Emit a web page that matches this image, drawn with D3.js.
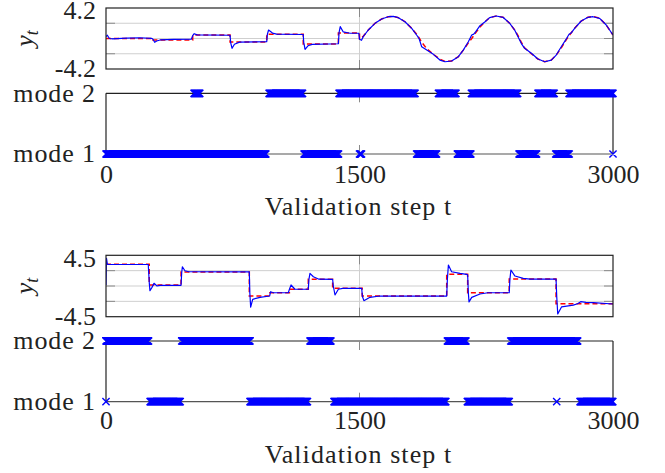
<!DOCTYPE html>
<html><head><meta charset="utf-8">
<script src="https://cdn.jsdelivr.net/npm/d3@7"></script>
<style>
html,body{margin:0;padding:0;background:#fff;}
svg{display:block;}
text{font-family:"Liberation Serif","DejaVu Serif",serif;fill:#222;}
</style></head>
<body><svg id="c" width="665" height="473"></svg>
<script>
// ---------- data ----------
const xTicks = [0, 1500, 3000];
const xTickLabels = ["0", "1500", "3000"];
const modeTicks = [1, 2];
const modeLabels = ["mode 1", "mode 2"];
const xTitle = "Validation step t";

const topYTicks = [-4.2, 4.2];
const topYTickLabels = ["-4.2", "4.2"];
const topYGrid = [-2.1, 0, 2.1];
const botYTicks = [-4.5, 4.5];
const botYTickLabels = ["-4.5", "4.5"];
const botYGrid = [-2.25, 0, 2.25];

// reference (red dashed) — step segments [t, value], then smooth points
const topRefSteps = [[0,0.0],[278,-0.22],[513,0.48],[734,-0.48],[951,0.58],[1167,-0.76],[1375,0.75]];
const topRefSmooth = [[1500,0.0],[1522,0.3],[1552,1.17],[1592,2.09],[1631,2.69],[1670,3.0],[1700,3.05],[1730,2.87],[1769,2.31],[1809,1.4],[1838,0.6],[1868,-0.5],[1898,-1.4],[1937,-2.18],[1976,-2.85],[2006,-3.15],[2045,-3.1],[2085,-2.5],[2114,-1.6],[2144,-0.6],[2164,0.0],[2188,0.8],[2213,1.6],[2243,2.31],[2270,2.87],[2309,3.1],[2349,2.92],[2389,2.09],[2418,1.17],[2438,0.4],[2457,-0.5],[2477,-1.3],[2517,-2.1],[2556,-2.82],[2596,-3.2],[2635,-2.97],[2664,-2.28],[2694,-1.3],[2720,-0.3],[2740,0.4],[2773,1.4],[2812,2.41],[2852,2.92],[2882,3.05],[2921,2.78],[2960,1.86],[3000,0.48]];
// model output (blue)
const topOut = [[0,0.25],[8,0.45],[20,0.0],[40,-0.05],[120,0.05],[200,0.1],[270,0.02],[278,-0.1],[288,-0.52],[300,-0.35],[320,-0.2],[400,-0.12],[505,-0.1],[513,0.4],[522,0.66],[540,0.5],[734,0.45],[738,-0.6],[746,-1.35],[760,-0.8],[790,-0.5],[951,-0.45],[955,0.6],[962,1.17],[985,0.75],[1010,0.6],[1167,0.55],[1170,-0.5],[1178,-1.49],[1195,-1.0],[1220,-0.8],[1375,-0.72],[1379,0.8],[1386,1.63],[1404,0.9],[1444,0.72],[1496,0.72],[1500,-0.1],[1512,-0.25],[1522,0.25],[1552,1.17],[1592,2.09],[1631,2.69],[1670,3.0],[1700,3.05],[1730,2.87],[1769,2.31],[1809,1.4],[1838,0.48],[1852,0.02],[1868,-1.13],[1898,-1.6],[1937,-2.18],[1976,-2.97],[2006,-3.2],[2045,-3.1],[2085,-2.5],[2114,-1.6],[2144,-0.44],[2164,0.48],[2176,0.6],[2188,0.94],[2213,1.76],[2243,2.31],[2270,2.87],[2309,3.1],[2349,2.92],[2389,2.09],[2418,1.17],[2438,0.25],[2457,-0.67],[2477,-1.35],[2517,-2.04],[2556,-2.82],[2596,-3.2],[2635,-2.97],[2664,-2.28],[2694,-1.13],[2720,-0.2],[2740,0.58],[2752,0.75],[2773,1.4],[2812,2.41],[2852,2.92],[2882,3.0],[2921,2.78],[2960,1.86],[3000,0.48]];

const botRefSteps = [[0,3.17],[256,0.15],[444,2.05],[848,-1.47],[970,-0.99],[1085,-0.48],[1197,0.98],[1341,-0.34],[1516,-1.47],[2016,1.71],[2140,-0.99],[2386,1.02],[2663,-2.6],[3000,-2.6]];
const botOut = [[0,0.15],[3,4.05],[8,3.2],[15,3.17],[250,3.15],[256,0.5],[260,-0.69],[272,-0.2],[284,0.4],[302,0.0],[320,0.1],[444,0.1],[448,2.0],[452,2.82],[467,2.24],[490,2.09],[848,2.07],[851,-1.0],[856,-3.1],[868,-1.95],[911,-1.66],[968,-1.47],[974,-0.84],[990,-0.99],[1079,-0.99],[1085,-0.5],[1095,0.15],[1118,-0.48],[1197,-0.46],[1201,1.0],[1207,1.86],[1227,1.36],[1260,1.0],[1341,0.98],[1345,0.0],[1355,-1.32],[1375,-0.48],[1400,-0.34],[1513,-0.34],[1517,-1.5],[1526,-2.15],[1562,-1.66],[1620,-1.47],[2016,-1.47],[2020,1.0],[2026,3.08],[2045,2.09],[2095,1.86],[2134,1.71],[2140,1.6],[2144,-1.0],[2148,-2.33],[2164,-1.66],[2213,-1.17],[2260,-0.99],[2386,-0.99],[2390,1.0],[2396,2.34],[2420,1.46],[2469,1.12],[2510,1.02],[2663,1.02],[2667,-1.5],[2673,-4.1],[2696,-3.05],[2765,-2.8],[2790,-2.6],[2809,-2.3],[2840,-2.4],[2884,-2.45],[3000,-2.64]];

// active-mode runs [start, end]
const topMode1 = [[0,946],[1172,1376],[1500,1512],[1838,1956],[2079,2159],[2444,2548],[2661,2741],[3000,3000]];
const topMode2 = [[521,556],[965,1163],[1379,1830],[1967,2071],[2162,2436],[2556,2652],[2740,3000]];
const botMode1 = [[0,0],[261,439],[852,1193],[1349,2012],[2138,2386],[2667,2667],[2805,3000]];
const botMode2 = [[0,252],[448,852],[1207,1331],[2020,2130],[2395,2791]];

// ---------- drawing ----------
const svg = d3.select("#c");
const X0 = 106, X1 = 613;
const x = d3.scaleLinear().domain([0, 3000]).range([X0, X1]);
const TICK = 9;
const FS = 26;
const FONT = "'Liberation Serif','DejaVu Serif',serif";

function signalPanel(cfg) {
  const y = d3.scaleLinear().domain(cfg.domain).range([cfg.bottom, cfg.top]);
  const g = svg.append("g");
  const id = "clip" + cfg.name;
  svg.append("clipPath").attr("id", id).append("rect")
    .attr("x", X0).attr("y", cfg.top).attr("width", X1 - X0).attr("height", cfg.bottom - cfg.top);
  g.selectAll(".hg").data(cfg.grid).join("line")
    .attr("x1", X0).attr("x2", X1).attr("y1", d => y(d)).attr("y2", d => y(d))
    .attr("stroke", "#cfcfcf").attr("stroke-width", 1);
  g.selectAll(".vg").data(xTicks.slice(1, -1)).join("line")
    .attr("x1", d => x(d)).attr("x2", d => x(d)).attr("y1", cfg.top).attr("y2", cfg.bottom)
    .attr("stroke", "#cfcfcf").attr("stroke-width", 1);
  cfg.grid.forEach(v => {
    g.append("line").attr("x1", X0).attr("x2", X0 + TICK).attr("y1", y(v)).attr("y2", y(v)).attr("stroke", "#8a8a8a");
    g.append("line").attr("x1", X1 - TICK).attr("x2", X1).attr("y1", y(v)).attr("y2", y(v)).attr("stroke", "#8a8a8a");
  });
  xTicks.slice(1, -1).forEach(v => {
    g.append("line").attr("x1", x(v)).attr("x2", x(v)).attr("y1", cfg.top).attr("y2", cfg.top + TICK).attr("stroke", "#8a8a8a");
    g.append("line").attr("x1", x(v)).attr("x2", x(v)).attr("y1", cfg.bottom - TICK).attr("y2", cfg.bottom).attr("stroke", "#8a8a8a");
  });
  const lines = g.append("g").attr("clip-path", `url(#${id})`);
  const stepLine = d3.line().x(d => x(d[0])).y(d => y(d[1])).curve(d3.curveStepAfter);
  const lin = d3.line().x(d => x(d[0])).y(d => y(d[1]));
  let refD = stepLine(cfg.refSteps);
  if (cfg.refSmooth) {
    const last = cfg.refSteps[cfg.refSteps.length - 1];
    refD = stepLine(cfg.refSteps.concat([[cfg.refSmooth[0][0], last[1]]])) + "L" + lin(cfg.refSmooth).slice(1);
  }
  lines.append("path").attr("d", refD).attr("fill", "none").attr("stroke", "#ff0000")
    .attr("stroke-width", 1.5).attr("stroke-dasharray", "5,3");
  lines.append("path").attr("d", lin(cfg.out)).attr("fill", "none").attr("stroke", "#0000ff")
    .attr("stroke-width", 1.2).attr("stroke-linejoin", "round");
  g.append("rect").attr("x", X0).attr("y", cfg.top).attr("width", X1 - X0).attr("height", cfg.bottom - cfg.top)
    .attr("fill", "none").attr("stroke", "#222").attr("stroke-width", 1.2);
  const ax = d3.axisLeft(y).tickValues(cfg.ticks).tickSize(0).tickPadding(10)
    .tickFormat((d, i) => cfg.tickLabels[i]);
  const ag = svg.append("g").attr("transform", `translate(${X0},0)`).call(ax);
  ag.attr("font-family", FONT);
  ag.select(".domain").remove();
  ag.selectAll("text").attr("font-size", FS).attr("fill", "#222")
    .attr("dy", d => d > 0 ? "0.42em" : "0.3em");
  const t = svg.append("text").attr("transform", `translate(33,${(cfg.top + cfg.bottom) / 2}) rotate(-90)`)
    .attr("text-anchor", "middle").attr("font-size", FS);
  t.append("tspan").attr("font-style", "italic").text("y");
  t.append("tspan").attr("font-style", "italic").attr("font-size", 18).attr("dy", 5).text("t");
}

function modePanel(cfg) {
  const y = d3.scaleLinear().domain([1, 2]).range([cfg.y1, cfg.y2]);
  const g = svg.append("g");
  g.append("line").attr("x1", X0).attr("x2", X1).attr("y1", y(2)).attr("y2", y(2)).attr("stroke", "#222").attr("stroke-width", 1.2);
  g.append("line").attr("x1", X0).attr("x2", X1).attr("y1", y(1)).attr("y2", y(1)).attr("stroke", "#555").attr("stroke-width", 1.2);
  g.append("line").attr("x1", X0).attr("x2", X0).attr("y1", y(2)).attr("y2", y(1)).attr("stroke", "#222").attr("stroke-width", 1.2);
  g.append("line").attr("x1", X1).attr("x2", X1).attr("y1", y(2)).attr("y2", y(1)).attr("stroke", "#222").attr("stroke-width", 1.2);
  xTicks.slice(1, -1).forEach(v => {
    g.append("line").attr("x1", x(v)).attr("x2", x(v)).attr("y1", y(2)).attr("y2", y(2) + TICK).attr("stroke", "#8a8a8a");
    g.append("line").attr("x1", x(v)).attr("x2", x(v)).attr("y1", y(1) - TICK).attr("y2", y(1)).attr("stroke", "#8a8a8a");
  });
  const pts = [];
  [[1, cfg.m1], [2, cfg.m2]].forEach(([m, runs]) => {
    runs.forEach(([a, b]) => {
      if (a === b) pts.push([a, m]);
      else for (let t = a; t <= b; t += 2) pts.push([t, m]);
    });
  });
  const s = 3.6;
  let d = "";
  pts.forEach(([t, m]) => {
    const px = x(t), py = y(m);
    d += `M${px - s},${py - s}L${px + s},${py + s}M${px - s},${py + s}L${px + s},${py - s}`;
  });
  g.append("path").attr("d", d).attr("fill", "none").attr("stroke", "#0000ff").attr("stroke-width", 1.4);
  const ay = d3.axisLeft(y).tickValues(modeTicks).tickSize(0).tickPadding(10)
    .tickFormat((d, i) => modeLabels[i]);
  const ag = svg.append("g").attr("transform", `translate(${X0},0)`).call(ay);
  ag.attr("font-family", FONT);
  ag.select(".domain").remove();
  ag.selectAll("text").attr("font-size", FS).attr("fill", "#222").attr("dy", "0.3em")
    .attr("letter-spacing", "0.9px");
  const ax = d3.axisBottom(x).tickValues(xTicks).tickSize(0).tickPadding(0)
    .tickFormat((d, i) => xTickLabels[i]);
  const xg = svg.append("g").attr("transform", `translate(0,${cfg.xlab})`).call(ax);
  xg.attr("font-family", FONT);
  xg.select(".domain").remove();
  xg.selectAll("text").attr("font-size", FS).attr("fill", "#222").attr("y", 0).attr("dy", 0);
  svg.append("text").attr("x", (X0 + X1) / 2 - 1).attr("y", cfg.title).attr("text-anchor", "middle")
    .attr("font-size", FS).attr("letter-spacing", "1.1px").text(xTitle);
}

signalPanel({name: "a", domain: [-4.2, 4.2], top: 8, bottom: 69, grid: topYGrid, ticks: topYTicks, tickLabels: topYTickLabels,
  refSteps: topRefSteps, refSmooth: topRefSmooth, out: topOut});
modePanel({y2: 93.3, y1: 154, m1: topMode1, m2: topMode2, xlab: 182.5, title: 215});
signalPanel({name: "b", domain: [-4.5, 4.5], top: 255.3, bottom: 316.7, grid: botYGrid, ticks: botYTicks, tickLabels: botYTickLabels,
  refSteps: botRefSteps, refSmooth: null, out: botOut});
modePanel({y2: 341, y1: 401.7, m1: botMode1, m2: botMode2, xlab: 428.5, title: 462.5});
</script></body></html>
